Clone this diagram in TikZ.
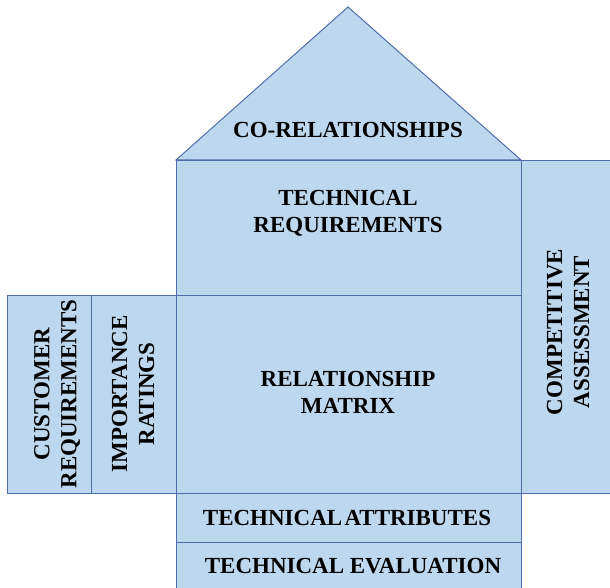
\documentclass[tikz,border=0pt]{standalone}
\usepackage{fontspec}
\setmainfont{Liberation Serif}
\usetikzlibrary{positioning,shapes.geometric}

\definecolor{qfdfill}{RGB}{189,215,238}
\definecolor{qfdline}{RGB}{80,110,170}

\tikzset{
    room/.style={draw=qfdline, fill=qfdfill, line width=1pt, inner sep=0pt, anchor=north west},
    tag/.style={font=\fontsize{23}{27}\selectfont\bfseries, align=center, inner sep=0pt}
}

\begin{document}
\begin{tikzpicture}[x=1pt, y=-1pt]
    \useasboundingbox (0,0) rectangle (610,588);

    % roof
    \draw[draw=qfdline, fill=qfdfill, line width=1pt] (176,160) -- (348,7) -- (521,160) -- cycle;

    % boxes of the house
    \node (techreq) [room, minimum width=345pt, minimum height=135pt] at (176,160) {};
    \node (matrix) [room, minimum width=345pt, minimum height=198pt] at (176,295) {};
    \node (custreq) [room, minimum width=84pt, minimum height=198pt] at (7,295) {};
    \node (rating) [room, minimum width=85pt, minimum height=198pt] at (91,295) {};
    \node (compete) [room, minimum width=95pt, minimum height=333pt] at (521,160) {};
    \node (attrib) [room, minimum width=345pt, minimum height=49pt] at (176,493) {};
    \node (evaluate) [room, minimum width=345pt, minimum height=52pt] at (176,542) {};

    % labels
    \node (corel) [tag] at (348,130) {CO-RELATIONSHIPS};
    \node (techreqtxt) [tag] at (348,213) {TECHNICAL\\REQUIREMENTS};
    \node (matrixtxt) [tag] at (348,392) {RELATIONSHIP\\MATRIX};
    \node (custreqtxt) [tag, rotate=90] at (57,394) {CUSTOMER\\REQUIREMENTS};
    \node (ratingtxt) [tag, rotate=90] at (133,394) {IMPORTANCE\\RATINGS};
    \node (competetxt) [tag, rotate=90] at (568,332) {COMPETITIVE\\ASSESSMENT};
    \node (attribtxt) [tag] at (347,518) {TECHNICAL\hspace{0.1em}ATTRIBUTES};
    \node (evaluatetxt) [tag] at (353,566) {TECHNICAL EVALUATION};

\end{tikzpicture}
\end{document}
